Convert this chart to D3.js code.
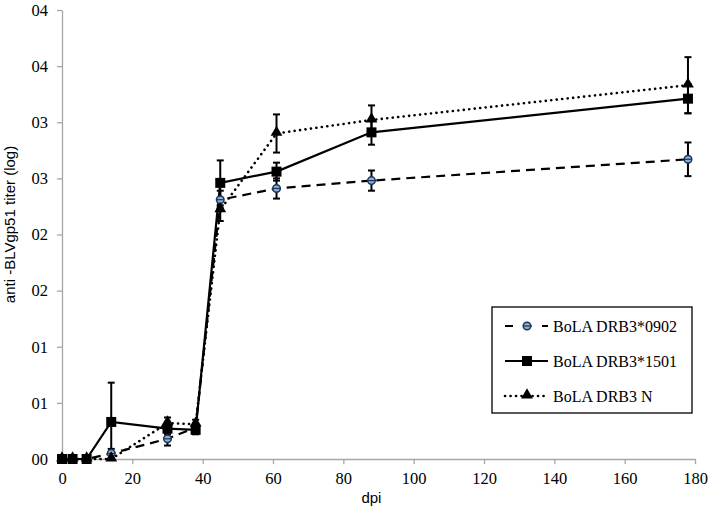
<!DOCTYPE html>
<html>
<head>
<meta charset="utf-8">
<script src="https://cdn.jsdelivr.net/npm/d3@7"></script>
<style>
  body { margin: 0; background: #fff; }
  .tick text { font-family: "Liberation Serif", serif; font-size: 16.5px; fill: #000; }
  .axis path, .axis line { stroke: #a6a6a6; stroke-width: 1.3; }
  .axis-title { font-family: "Liberation Sans", Arial, sans-serif; font-size: 15px; fill: #000; }
  .legend text { font-family: "Liberation Serif", serif; font-size: 16px; fill: #000; }
</style>
</head>
<body>
<svg width="709" height="509"></svg>
<script>
// days post infection
const dpi = [0, 3, 7, 14, 30, 38, 45, 61, 88, 178];

// BoLA DRB3*0902
const drb0902 = [0, 0, 0, 0.05, 0.18, 0.28, 2.31, 2.41, 2.48, 2.67];
const drb0902Err = [0, 0, 0, 0.04, 0.06, 0.04, 0.08, 0.09, 0.09, 0.15];
// BoLA DRB3*1501
const drb1501 = [0, 0, 0, 0.33, 0.27, 0.26, 2.46, 2.56, 2.91, 3.21];
const drb1501Err = [0, 0, 0, 0.35, 0.05, 0.04, 0.2, 0.08, 0.11, 0.13];
// BoLA DRB3 N
const drbN = [0, 0, 0, 0, 0.32, 0.31, 2.22, 2.9, 3.02, 3.33];
const drbNErr = [0, 0, 0, 0, 0.05, 0.04, 0.1, 0.17, 0.13, 0.25];

const yTickValues = [0, 0.5, 1, 1.5, 2, 2.5, 3, 3.5, 4];
const yTickLabels = ['00', '01', '01', '02', '02', '03', '03', '04', '04'];
const xTickValues = [0, 20, 40, 60, 80, 100, 120, 140, 160, 180];

const seriesNames = ['BoLA DRB3*0902', 'BoLA DRB3*1501', 'BoLA DRB3 N'];

const series = [
  {name: seriesNames[0], values: drb0902, err: drb0902Err, dash: '9,6', cap: 'butt', marker: 'circle'},
  {name: seriesNames[1], values: drb1501, err: drb1501Err, dash: null, cap: 'butt', marker: 'square'},
  {name: seriesNames[2], values: drbN, err: drbNErr, dash: '0.1,5.4', cap: 'round', marker: 'triangle'}
];

const margin = {top: 10, right: 14, bottom: 50, left: 62};
const width = 709 - margin.left - margin.right;
const height = 509 - margin.top - margin.bottom;

const svg = d3.select('svg').append('g')
  .attr('transform', 'translate(' + margin.left + ',' + margin.top + ')');

const x = d3.scaleLinear().domain([0, 180]).range([0, width]);
const y = d3.scaleLinear().domain([0, 4]).range([height, 0]);

// axes
svg.append('g').attr('class', 'axis')
  .attr('transform', 'translate(0,' + height + ')')
  .call(d3.axisBottom(x).tickValues(xTickValues).tickSize(5).tickSizeOuter(0).tickPadding(8));
svg.append('g').attr('class', 'axis')
  .call(d3.axisLeft(y).tickValues(yTickValues).tickSize(5).tickSizeOuter(0).tickPadding(9)
    .tickFormat((d, i) => yTickLabels[i]));

svg.append('text').attr('class', 'axis-title')
  .attr('x', x(88)).attr('y', height + 44).attr('text-anchor', 'middle')
  .text('dpi');
svg.append('text').attr('class', 'axis-title')
  .attr('transform', 'translate(' + (-47) + ',' + (height / 2 - 10) + ') rotate(-90)')
  .attr('text-anchor', 'middle')
  .text('anti -BLVgp51 titer (log)');

const drawMarker = (g, type, cx, cy) => {
  if (type === 'circle') {
    g.append('circle').attr('cx', cx).attr('cy', cy).attr('r', 3.8)
      .attr('fill', '#8eaed8').attr('stroke', '#1f3556').attr('stroke-width', 1.5);
    g.append('line').attr('x1', cx - 3.8).attr('x2', cx + 3.8).attr('y1', cy).attr('y2', cy)
      .attr('stroke', '#1f3556').attr('stroke-width', 1.2);
  } else if (type === 'square') {
    g.append('rect').attr('x', cx - 5).attr('y', cy - 5).attr('width', 10).attr('height', 10)
      .attr('fill', '#000');
  } else {
    g.append('path').attr('d', d3.symbol().type(d3.symbolTriangle).size(60)())
      .attr('transform', 'translate(' + cx + ',' + (cy - 1) + ')').attr('fill', '#000');
  }
};

const line = d3.line().x((d, i) => x(dpi[i])).y(d => y(d));

series.forEach((s) => {
  svg.append('path').datum(s.values).attr('d', line)
    .attr('fill', 'none').attr('stroke', '#000')
    .attr('stroke-width', s.marker === 'triangle' ? 2.6 : 2.2)
    .attr('stroke-dasharray', s.dash)
    .attr('stroke-linecap', s.cap);
});

// error bars
series.forEach((s) => {
  const g = svg.append('g');
  s.values.forEach((v, i) => {
    const e = s.err[i];
    if (!e) return;
    const cx = x(dpi[i]);
    const top = y(v + e), bot = y(Math.max(0, v - e));
    g.append('line').attr('x1', cx).attr('x2', cx).attr('y1', top).attr('y2', bot)
      .attr('stroke', '#000').attr('stroke-width', 2);
    [top, bot].forEach((yy) => {
      g.append('line').attr('x1', cx - 3.5).attr('x2', cx + 3.5).attr('y1', yy).attr('y2', yy)
        .attr('stroke', '#000').attr('stroke-width', 2);
    });
  });
});

series.forEach((s) => {
  const g = svg.append('g');
  s.values.forEach((v, i) => drawMarker(g, s.marker, x(dpi[i]), y(v)));
});

// legend
const legend = svg.append('g').attr('class', 'legend')
  .attr('transform', 'translate(' + (492 - margin.left) + ',' + (307 - margin.top) + ')');
legend.append('rect').attr('width', 200).attr('height', 106)
  .attr('fill', '#fff').attr('stroke', '#000').attr('stroke-width', 1.3);
series.forEach((s, i) => {
  const yy = 19 + i * 35;
  legend.append('line').attr('x1', 13).attr('x2', 56).attr('y1', yy).attr('y2', yy)
    .attr('stroke', '#000')
    .attr('stroke-width', s.marker === 'triangle' ? 2.6 : 2.2)
    .attr('stroke-dasharray', s.marker === 'circle' ? '8,10.5' : s.dash)
    .attr('stroke-linecap', s.cap);
  drawMarker(legend, s.marker, 35, yy);
  legend.append('text').attr('x', 61).attr('y', yy + 5.5).text(s.name);
});
</script>
</body>
</html>
